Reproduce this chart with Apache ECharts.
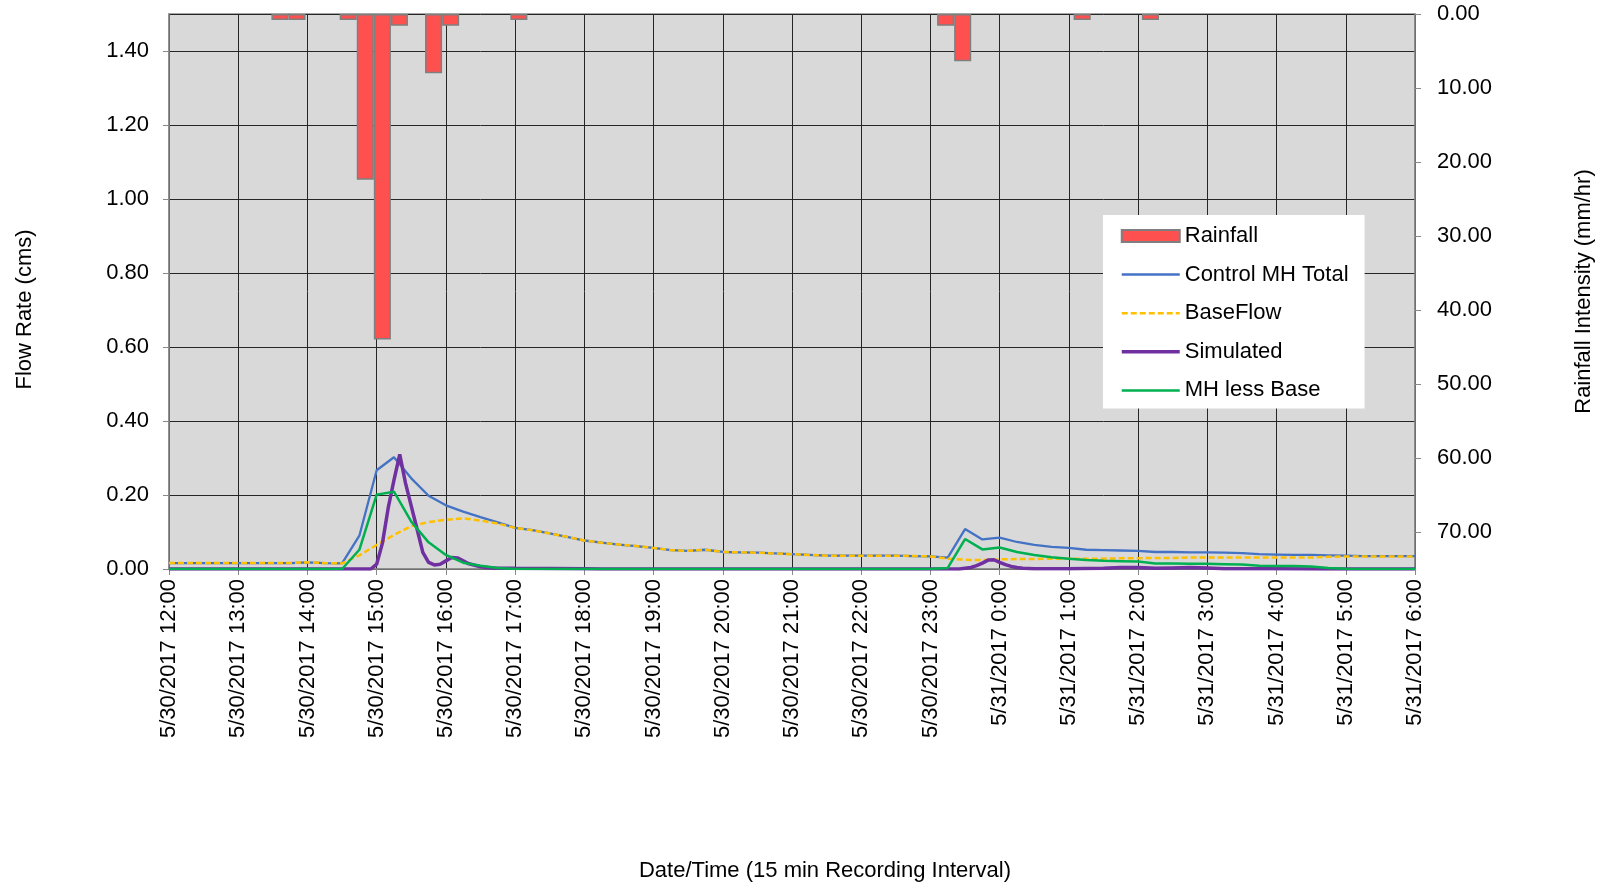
<!DOCTYPE html>
<html>
<head>
<meta charset="utf-8">
<script src="https://cdn.jsdelivr.net/npm/echarts@6/dist/echarts.min.js"></script>
<style>
html,body{margin:0;padding:0;background:#fff;}
#c{width:1606px;height:887px;}
</style>
</head>
<body>
<div id="c"></div>
<script>
// ---- category labels: 15-minute steps from 5/30/2017 12:00 to 5/31/2017 6:00 ----
const times = [];
for (let i = 0; i <= 72; i++) {
  const m = 720 + 15 * i;
  const day = m >= 1440 ? 31 : 30;
  const mm = m % 1440;
  const h = Math.floor(mm / 60);
  const mi = mm % 60;
  times.push('5/' + day + '/2017 ' + h + ':' + (mi < 10 ? '0' + mi : mi));
}

// ---- rainfall intensity (mm/hr), one value per 15-min interval ----
const rainfall = [
  0,0,0,0,0,0,0.8,0.8,0,0,
  0.8,22.4,44.0,1.6,0,8.0,1.6,0,0,0,
  0.8,0,0,0,0,0,0,0,0,0,
  0,0,0,0,0,0,0,0,0,0,
  0,0,0,0,0,1.6,6.4,0,0,0,
  0,0,0,0.8,0,0,0,0.8,0,0,
  0,0,0,0,0,0,0,0,0,0,
  0,0,0
];

// ---- flow rates (cms) at 15-min steps ----
const controlTotal = [
  0.016,0.016,0.016,0.016,0.016,0.016,0.016,0.016,0.018,0.016,
  0.015,0.090,0.267,0.302,0.245,0.198,0.172,0.155,0.140,0.126,
  0.111,0.105,0.096,0.087,0.077,0.071,0.066,0.062,0.057,0.051,
  0.049,0.052,0.046,0.045,0.044,0.042,0.040,0.038,0.036,0.036,
  0.036,0.036,0.036,0.035,0.034,0.031,0.108,0.080,0.085,0.073,
  0.065,0.060,0.057,0.052,0.051,0.050,0.049,0.046,0.046,0.045,
  0.045,0.044,0.043,0.040,0.039,0.038,0.038,0.037,0.036,0.035,
  0.035,0.035,0.035
];
const baseFlow = [
  0.016,0.016,0.016,0.016,0.016,0.016,0.016,0.016,0.018,0.016,
  0.015,0.037,0.065,0.092,0.116,0.127,0.133,0.137,0.131,0.123,
  0.111,0.105,0.096,0.087,0.077,0.071,0.066,0.062,0.057,0.051,
  0.049,0.052,0.046,0.045,0.044,0.042,0.040,0.038,0.036,0.036,
  0.036,0.036,0.036,0.035,0.034,0.028,0.025,0.024,0.026,0.027,
  0.027,0.028,0.028,0.028,0.028,0.029,0.029,0.030,0.030,0.031,
  0.031,0.031,0.031,0.031,0.031,0.031,0.031,0.033,0.034,0.034,
  0.034,0.034,0.034
];
const mhLessBase = [
  0,0,0,0,0,0,0,0,0,0,
  0,0.052,0.201,0.209,0.128,0.072,0.038,0.017,0.009,0.003,
  0,0,0,0,0,0,0,0,0,0,
  0,0,0,0,0,0,0,0,0,0,
  0,0,0,0,0,0.003,0.081,0.053,0.058,0.046,
  0.038,0.032,0.028,0.024,0.022,0.021,0.020,0.015,0.015,0.014,
  0.014,0.013,0.012,0.009,0.008,0.008,0.007,0.003,0.001,0,
  0,0,0
];

// ---- simulated flow (cms), finer time steps (minutes after 5/30/2017 12:00) ----
const simMinutes = [
  0,175,180,185,190,195,200,205,210,215,
  220,225,230,235,240,245,250,255,260,265,
  270,280,300,360,375,685,690,695,700,705,
  710,715,720,725,730,735,740,750,780,810,
  825,840,855,870,885,900,915,960,1000,1080
];
const simulated = [
  0,0,0.013,0.07,0.165,0.24,0.31,0.232,0.17,0.108,
  0.045,0.018,0.011,0.013,0.022,0.031,0.030,0.022,0.014,0.010,
  0.006,0.003,0.002,0.001,0,0,0.002,0.004,0.009,0.016,
  0.024,0.025,0.018,0.012,0.007,0.004,0.002,0.001,0.001,0.002,
  0.004,0.004,0.002,0.003,0.004,0.003,0.001,0.001,0,0
];

const leftTicks = { min: 0, max: 1.5, interval: 0.2 };
const rightTicks = { min: 0, max: 75, interval: 10 };

const FONT = '"Liberation Sans", Arial, sans-serif';
const FS = 22;
const AXIS_GRAY = '#898989';
const GRID_DARK = '#262626';

const chart = echarts.init(document.getElementById('c'), null, { renderer: 'canvas' });

const hideSym = { opacity: 0 };

const option = {
  animation: false,
  backgroundColor: '#ffffff',
  textStyle: { fontFamily: FONT, color: '#000' },
  grid: {
    left: 169, right: 191, top: 14, bottom: 317,
    show: true, backgroundColor: '#D9D9D9',
    borderColor: AXIS_GRAY, borderWidth: 1.5
  },
  legend: {
    orient: 'vertical',
    left: 1103, top: 215,
    backgroundColor: '#ffffff',
    padding: [10, 16, 7, 17],
    itemWidth: 58, itemHeight: 12, itemGap: 16.6,
    selectedMode: false,
    textStyle: { fontSize: FS, color: '#000', fontFamily: FONT },
    data: [
      { name: 'Rainfall', icon: 'rect' },
      { name: 'Control MH Total', itemStyle: hideSym, lineStyle: { width: 2.5 } },
      { name: 'BaseFlow', itemStyle: hideSym, lineStyle: { width: 2.5 } },
      { name: 'Simulated', itemStyle: hideSym, lineStyle: { width: 3.5 } },
      { name: 'MH less Base', itemStyle: hideSym, lineStyle: { width: 2.5 } }
    ]
  },
  xAxis: [
    {
      type: 'category', data: times, boundaryGap: false,
      axisLine: { show: true, lineStyle: { color: AXIS_GRAY, width: 1.5 } },
      axisTick: { show: true, interval: 3, length: 6, lineStyle: { color: AXIS_GRAY } },
      axisLabel: { interval: 3, rotate: 90, fontSize: FS, color: '#000', margin: 10, fontFamily: FONT },
      splitLine: { show: true, interval: 3, lineStyle: { color: GRID_DARK, width: 1 } },
      name: 'Date/Time (15 min Recording Interval)',
      nameLocation: 'middle', nameGap: 291,
      nameTextStyle: { fontSize: FS, color: '#000', fontFamily: FONT, padding: [0, 0, 0, 66] }
    },
    { type: 'category', data: times, boundaryGap: true, show: false },
    { type: 'value', min: 0, max: 1080, show: false }
  ],
  yAxis: [
    {
      type: 'value', min: leftTicks.min, max: leftTicks.max, interval: leftTicks.interval,
      position: 'left',
      axisLine: { show: true, lineStyle: { color: AXIS_GRAY, width: 1.5 } },
      axisTick: { show: true, length: 6, lineStyle: { color: AXIS_GRAY } },
      axisLabel: { formatter: v => v.toFixed(2), fontSize: FS, color: '#000', margin: 20, showMaxLabel: false, fontFamily: FONT },
      splitLine: { show: true, lineStyle: { color: GRID_DARK, width: 1 } },
      name: 'Flow Rate (cms)', nameLocation: 'middle', nameGap: 133,
      nameTextStyle: { fontSize: FS, color: '#000', fontFamily: FONT, padding: [0, 36, 0, 0] }
    },
    {
      type: 'value', min: rightTicks.min, max: rightTicks.max, interval: rightTicks.interval,
      inverse: true, position: 'right',
      axisLine: { show: true, lineStyle: { color: AXIS_GRAY, width: 1.5 } },
      axisTick: { show: true, length: 6, lineStyle: { color: AXIS_GRAY } },
      axisLabel: { formatter: v => v.toFixed(2), fontSize: FS, color: '#000', margin: 22, showMaxLabel: false, fontFamily: FONT },
      splitLine: { show: false },
      name: 'Rainfall Intensity (mm/hr)', nameLocation: 'middle', nameGap: 158,
      nameTextStyle: { fontSize: FS, color: '#000', fontFamily: FONT }
    }
  ],
  series: [
    {
      name: 'Rainfall', type: 'bar', xAxisIndex: 1, yAxisIndex: 1,
      data: rainfall.map(v => (v > 0 ? v : '-')),
      barWidth: '100%',
      itemStyle: { color: '#FF5050', borderColor: '#7F7F7F', borderWidth: 1.5 }
    },
    {
      name: 'Control MH Total', type: 'line', xAxisIndex: 0, yAxisIndex: 0,
      data: controlTotal, symbol: 'none',
      lineStyle: { color: '#4472C4', width: 2.3 }, itemStyle: { color: '#4472C4' }
    },
    {
      name: 'BaseFlow', type: 'line', xAxisIndex: 0, yAxisIndex: 0,
      data: baseFlow, symbol: 'none',
      lineStyle: { color: '#FFC000', width: 2.5, type: [6, 3] }, itemStyle: { color: '#FFC000' }
    },
    {
      name: 'Simulated', type: 'line', xAxisIndex: 2, yAxisIndex: 0,
      data: simMinutes.map((m, i) => [m, simulated[i]]), symbol: 'none',
      lineStyle: { color: '#7030A0', width: 3.5 }, itemStyle: { color: '#7030A0' }
    },
    {
      name: 'MH less Base', type: 'line', xAxisIndex: 0, yAxisIndex: 0,
      data: mhLessBase, symbol: 'none',
      lineStyle: { color: '#00B050', width: 2.5 }, itemStyle: { color: '#00B050' }
    }
  ]
};
chart.setOption(option);
</script>
</body>
</html>
